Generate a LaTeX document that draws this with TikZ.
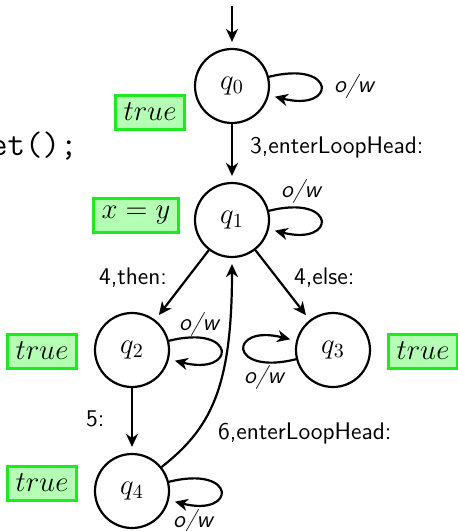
\documentclass[tikz,border=0pt]{standalone}
\usetikzlibrary{arrows.meta}
\definecolor{boxfill}{RGB}{180,255,180}
\definecolor{boxline}{RGB}{30,235,30}
\begin{document}
\begin{tikzpicture}[x=0.5pt,y=-0.5pt,line width=1.1pt,
  state/.style={circle,draw,minimum size=37pt,inner sep=0pt,font=\fontsize{14}{16}\selectfont},
  cond/.style={draw=boxline,fill=boxfill,line width=1.5pt,inner xsep=4pt,inner ysep=0pt,minimum height=17pt,font=\fontsize{14}{16}\selectfont},
  elabel/.style={inner sep=0pt,anchor=base west,font=\fontsize{12}{14}\selectfont\sffamily},
  owlabel/.style={inner sep=0pt,anchor=base west,font=\fontsize{12}{14}\selectfont\sffamily\itshape},
  trans/.style={-{Stealth[length=6.5pt,width=6pt,inset=2pt]},shorten >=3pt}
]
\useasboundingbox (0,0) rectangle (458,531);

% code fragment
\node[anchor=base west,inner sep=0pt,font=\fontsize{17}{20}\selectfont\ttfamily] (code) at (-11,155) {et();};

% states
\node[state] (q0) at (232,86) {$q_0$};
\node[state] (q1) at (232,220) {$q_1$};
\node[state] (q2) at (132,350) {$q_2$};
\node[state] (q3) at (333,350) {$q_3$};
\node[state] (q4) at (132,491) {$q_4$};

% conditions
\node[cond] (b0) at (150,112) {$true$};
\node[cond] (b1) at (136,215) {$x=y$};
\node[cond] (b2) at (42,351) {$true$};
\node[cond] (b3) at (423,351) {$true$};
\node[cond] (b4) at (42,483) {$true$};

% initial arrow
\coordinate (init) at (232,6);
\draw[trans] (init) -- (q0.north);

% transitions
\draw[trans] (q0) -- (q1);
\draw[trans] (q1) -- (q2);
\draw[trans] (q1) -- (q3);
\draw[trans] (q2) -- (q4);
\draw[trans] (q4.39) .. controls +(48,-38) and +(0,132) .. (q1.south);

% self loops
\draw[trans] (q0.14) .. controls +(68,-17) and +(68,17) .. (q0.-14);
\draw[trans] (q1.14) .. controls +(68,-17) and +(68,17) .. (q1.-14);
\draw[trans] (q2.14) .. controls +(68,-17) and +(68,17) .. (q2.-14);
\draw[trans] (q3.194) .. controls +(-68,17) and +(-68,-17) .. (q3.166);
\draw[trans] (q4.14) .. controls +(68,-17) and +(68,17) .. (q4.-14);

% labels
\node[elabel] (l01) at (249,153) {3,enterLoopHead:};
\node[elabel] (l12) at (98,284) {4,then:};
\node[elabel] (l13) at (293,284) {4,else:};
\node[elabel] (l24) at (85,426) {5:};
\node[elabel] (l41) at (217,439) {6,enterLoopHead:};
\node[owlabel] (o0) at (333,92) {o/w};
\node[owlabel] (o1) at (280,197) {o/w};
\node[owlabel] (o2) at (178,330) {o/w};
\node[owlabel] (o3) at (243,383) {o/w};
\node[owlabel] (o4) at (172,527) {o/w};
\end{tikzpicture}
\end{document}
